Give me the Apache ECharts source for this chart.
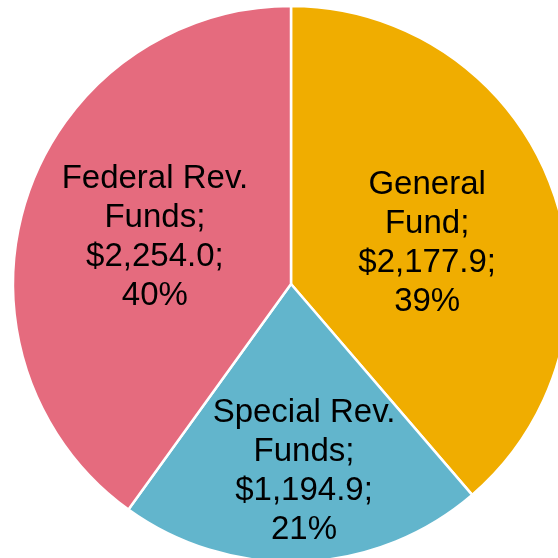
<!DOCTYPE html>
<html>
<head>
<meta charset="utf-8">
<script src="https://cdn.jsdelivr.net/npm/echarts@6/dist/echarts.min.js"></script>
<style>
  html, body { margin: 0; padding: 0; background: #fff; }
  #chart { width: 558px; height: 558px; }
</style>
</head>
<body>
<div id="chart"></div>
<script>
var names = ['General\nFund', 'Special Rev.\nFunds', 'Federal Rev.\nFunds'];
var amounts = [2177.9, 1194.9, 2254.0];
var percents = ['39%', '21%', '40%'];
var colors = ['#F0AD00', '#62B5CC', '#E56B7E'];
// label nudges so the text sits where the original puts it
var labelShift = [[3, 9], [7, 46], [-1, -3]];

var myChart = echarts.init(document.getElementById('chart'));

var pieData = [];
for (var i = 0; i < names.length; i++) {
  pieData.push({
    name: names[i],
    value: amounts[i],
    itemStyle: { color: colors[i] },
    label: { offset: labelShift[i] }
  });
}

function fmtMoney(v) {
  var parts = v.toFixed(1).split('.');
  return '$' + parts[0].replace(/\B(?=(\d{3})+(?!\d))/g, ',') + '.' + parts[1];
}

var option = {
  animation: false,
  backgroundColor: '#fff',
  series: [
    {
      type: 'pie',
      center: [291, 284],
      radius: 278,
      startAngle: 90,
      clockwise: true,
      data: pieData,
      itemStyle: {
        borderColor: '#fff',
        borderWidth: 2.5
      },
      label: {
        show: true,
        position: 'inside',
        color: '#000',
        fontFamily: 'Liberation Sans, Arial, sans-serif',
        fontSize: 33,
        lineHeight: 39,
        align: 'center',
        formatter: function (p) {
          return p.name + ';\n' + fmtMoney(p.value) + ';\n' + percents[p.dataIndex];
        }
      },
      labelLine: { show: false },
      emphasis: { disabled: true }
    }
  ]
};

myChart.setOption(option);
</script>
</body>
</html>
